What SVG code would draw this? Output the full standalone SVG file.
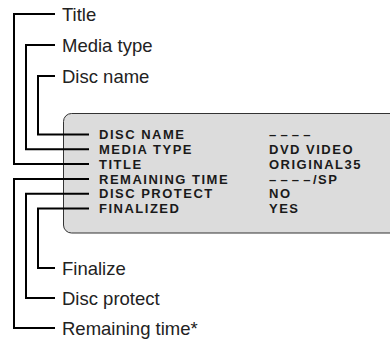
<svg xmlns="http://www.w3.org/2000/svg" width="390" height="342" viewBox="0 0 390 342">
<style>
.lbl{font-family:"Liberation Sans",Arial,sans-serif;font-size:18.5px;fill:#222}
.row{font-family:"Liberation Sans",Arial,sans-serif;font-size:13px;font-weight:bold;letter-spacing:1.5px;fill:#1a1a1a}
.ln{fill:none;stroke:#000;stroke-width:2}
</style>
<rect width="390" height="342" fill="#fff"/>
<g id="screen">
<rect x="63.5" y="113.5" width="360" height="119.5" rx="8" fill="#dcdcdc" stroke="#333" stroke-width="1"/>
<text class="row" x="99" y="139.2">DISC NAME</text>
<text class="row" x="99" y="154">MEDIA TYPE</text>
<text class="row" x="99" y="168.8">TITLE</text>
<text class="row" x="99" y="183.6">REMAINING TIME</text>
<text class="row" x="99" y="198.4">DISC PROTECT</text>
<text class="row" x="99" y="213.2">FINALIZED</text>
<text class="row" x="269" y="139.2" textLength="43" lengthAdjust="spacing">––––</text>
<text class="row" x="269" y="154">DVD VIDEO</text>
<text class="row" x="269" y="168.8">ORIGINAL35</text>
<text class="row" x="269" y="183.6"><tspan textLength="43" lengthAdjust="spacing">––––</tspan><tspan x="313">/SP</tspan></text>
<text class="row" x="269" y="198.4">NO</text>
<text class="row" x="269" y="213.2">YES</text>
</g>
<g id="connectors">
<polyline class="ln" points="55,14 14,14 14,164.1 89,164.1"/>
<polyline class="ln" points="55,45 26,45 26,149.3 89,149.3"/>
<polyline class="ln" points="55,76 38,76 38,134.5 89,134.5"/>
<polyline class="ln" points="89,178.9 14,178.9 14,328 55,328"/>
<polyline class="ln" points="89,193.7 26,193.7 26,298 55,298"/>
<polyline class="ln" points="89,208.5 38,208.5 38,268 55,268"/>
</g>
<g id="label-title"><text class="lbl" x="62" y="20.6">Title</text></g>
<g id="label-media"><text class="lbl" x="62" y="51.6">Media type</text></g>
<g id="label-discname"><text class="lbl" x="62" y="82.6">Disc name</text></g>
<g id="label-finalize"><text class="lbl" x="62" y="274.6">Finalize</text></g>
<g id="label-protect"><text class="lbl" x="62" y="304.6">Disc protect</text></g>
<g id="label-remaining"><text class="lbl" x="62" y="334.6">Remaining time*</text></g>
</svg>
